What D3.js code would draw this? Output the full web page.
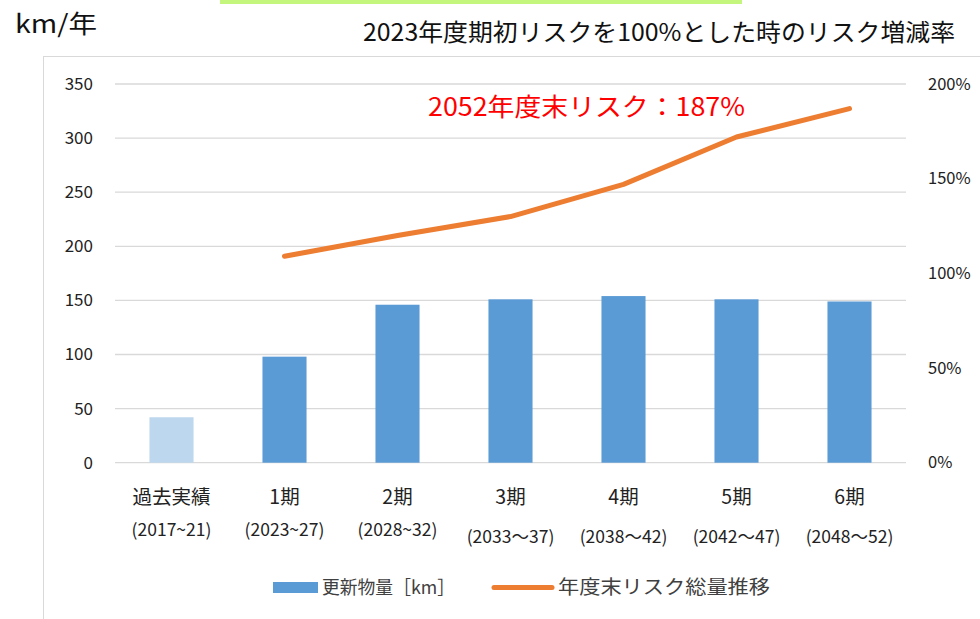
<!DOCTYPE html>
<html>
<head>
<meta charset="utf-8">
<script src="https://cdn.jsdelivr.net/npm/d3@7"></script>
<style>
  html, body { margin: 0; padding: 0; background: #fff; }
  svg { display: block; font-family: "Noto Sans CJK JP", "Noto Sans", sans-serif; }
</style>
</head>
<body>
<svg id="chart" width="980" height="619"></svg>
<script>
// Periods on the x axis (two-line labels)
const periods = ["過去実績", "1期", "2期", "3期", "4期", "5期", "6期"];
const periodYears = ["(2017~21)", "(2023~27)", "(2028~32)", "(2033～37)", "(2038～42)", "(2042～47)", "(2048～52)"];
// Renewal length per year [km]
const renewalKm = [42, 98, 146, 151, 154, 151, 149];
// Total risk at year end, relative to start of FY2023 (%); no value for the past period
const riskPct = [null, 109, 120, 130, 147, 172, 187];
// Axis ticks
const leftTicks = [0, 50, 100, 150, 200, 250, 300, 350];
const rightTicks = [0, 50, 100, 150, 200];

const svg = d3.select("#chart");

const plot = { left: 115, right: 906, top: 84, bottom: 462.7 };

const x = d3.scaleBand().domain(periods).range([plot.left, plot.right]).paddingInner(0.61).paddingOuter(0.305);
const yL = d3.scaleLinear().domain([0, 350]).range([plot.bottom, plot.top]);
const yR = d3.scaleLinear().domain([0, 200]).range([plot.bottom, plot.top]);

// Highlight strip at the top edge
svg.append("rect").attr("x", 220).attr("y", 0).attr("width", 522).attr("height", 4).attr("fill", "#c4f57c");

// Chart frame
svg.append("rect").attr("x", 43.5).attr("y", 56.5).attr("width", 960).attr("height", 600)
  .attr("fill", "none").attr("stroke", "#d9d9d9").attr("stroke-width", 1);

// Titles
svg.append("text").attr("x", 15).attr("y", 33).attr("font-size", 25).attr("fill", "#111")
  .attr("textLength", 82).attr("lengthAdjust", "spacingAndGlyphs")
  .text("km/年");
svg.append("text").attr("x", 363).attr("y", 41).attr("font-size", 24).attr("fill", "#111")
  .attr("textLength", 592).attr("lengthAdjust", "spacingAndGlyphs")
  .text("2023年度期初リスクを100%とした時のリスク増減率");

// Gridlines
svg.append("g").selectAll("line").data(leftTicks).join("line")
  .attr("x1", plot.left).attr("x2", plot.right)
  .attr("y1", d => yL(d)).attr("y2", d => yL(d))
  .attr("stroke", "#d9d9d9").attr("stroke-width", 1.3);

// Left axis
const leftAxis = svg.append("g").attr("transform", `translate(${plot.left - 22},0)`)
  .call(d3.axisLeft(yL).tickValues(leftTicks).tickSize(0).tickPadding(0));
leftAxis.select(".domain").remove();
leftAxis.selectAll("text").attr("font-size", 17).attr("fill", "#222")
  .attr("font-family", "'Noto Sans CJK JP', sans-serif");

// Right axis
const rightAxis = svg.append("g").attr("transform", `translate(${plot.right + 22},0)`)
  .call(d3.axisRight(yR).tickValues(rightTicks).tickSize(0).tickPadding(0).tickFormat(d => d + "%"));
rightAxis.select(".domain").remove();
rightAxis.selectAll("text").attr("font-size", 16.5).attr("fill", "#222")
  .attr("font-family", "'Noto Sans CJK JP', sans-serif");

// Bars
svg.append("g").selectAll("rect").data(periods).join("rect")
  .attr("x", d => x(d))
  .attr("width", x.bandwidth())
  .attr("y", (d, i) => yL(renewalKm[i]))
  .attr("height", (d, i) => yL(0) - yL(renewalKm[i]))
  .attr("fill", (d, i) => i === 0 ? "#bdd7ee" : "#5b9bd5");

// Risk line
const linePts = periods.map((p, i) => ({ p, v: riskPct[i] })).filter(d => d.v !== null);
svg.append("path").datum(linePts)
  .attr("fill", "none").attr("stroke", "#ed7d31").attr("stroke-width", 5)
  .attr("stroke-linecap", "round").attr("stroke-linejoin", "round")
  .attr("d", d3.line().x(d => x(d.p) + x.bandwidth() / 2).y(d => yR(d.v)));

// Final value annotation
svg.append("text").attr("x", 428).attr("y", 116).attr("font-size", 25).attr("fill", "#ff0000")
  .attr("textLength", 317).attr("lengthAdjust", "spacingAndGlyphs")
  .text(`2052年度末リスク：${riskPct[riskPct.length - 1]}%`);

// Category labels
const catG = svg.append("g");
catG.selectAll("text.cat").data(periods).join("text").attr("class", "cat")
  .attr("x", d => x(d) + x.bandwidth() / 2).attr("y", 504)
  .attr("text-anchor", "middle").attr("font-size", 19.5).attr("fill", "#222")
  .text(d => d);
catG.selectAll("text.yr").data(periods).join("text").attr("class", "yr")
  .attr("x", d => x(d) + x.bandwidth() / 2).attr("y", (d, i) => i < 3 ? 536 : 543)
  .attr("text-anchor", "middle").attr("font-size", 17.5).attr("fill", "#222")
  .text((d, i) => periodYears[i]);

// Legend
const lg = svg.append("g");
lg.append("rect").attr("x", 273).attr("y", 582).attr("width", 45).attr("height", 11).attr("fill", "#5b9bd5");
lg.append("text").attr("x", 322).attr("y", 594).attr("font-size", 18.5).attr("fill", "#404040")
  .attr("textLength", 133).attr("lengthAdjust", "spacingAndGlyphs")
  .text("更新物量［km］");
lg.append("line").attr("x1", 494).attr("x2", 552).attr("y1", 587.5).attr("y2", 587.5)
  .attr("stroke", "#ed7d31").attr("stroke-width", 5).attr("stroke-linecap", "round");
lg.append("text").attr("x", 558).attr("y", 594).attr("font-size", 19).attr("fill", "#404040")
  .attr("textLength", 212).attr("lengthAdjust", "spacingAndGlyphs")
  .text("年度末リスク総量推移");
</script>
</body>
</html>
